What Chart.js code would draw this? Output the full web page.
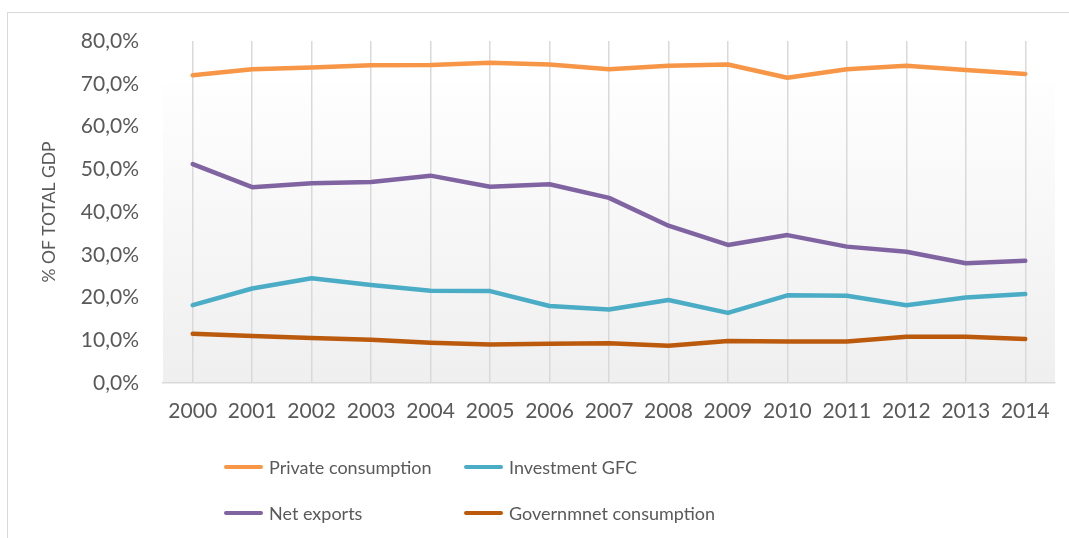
<!DOCTYPE html>
<html>
<head>
<meta charset="utf-8">
<script src="https://cdn.jsdelivr.net/npm/chart.js@4.4.1/dist/chart.umd.min.js"></script>
<style>
  html, body { margin: 0; padding: 0; background: #fff; }
  #wrap { position: relative; width: 1069px; height: 538px; overflow: hidden; }
  #frame { position: absolute; left: 7px; top: 12px; width: 1100px; height: 600px; border: 1px solid #d9d9d9; box-sizing: border-box; }
  #gdpChart { position: absolute; left: 0; top: 0; }
  .legend { position: absolute; font-family: Lato, sans-serif; font-size: 18px; color: #595959; }
  .legend-item { position: absolute; display: flex; align-items: center; white-space: nowrap; }
  .legend-swatch { width: 39px; height: 4px; border-radius: 2px; margin-right: 6px; }
</style>
</head>
<body>
<div id="wrap">
  <div id="frame"></div>
  <canvas id="gdpChart" width="1069" height="538"></canvas>
  <div class="legend" id="legend"></div>
</div>
<script>
const years = ['2000', '2001', '2002', '2003', '2004', '2005', '2006', '2007', '2008', '2009', '2010', '2011', '2012', '2013', '2014'];
const privateConsumption = [72.0, 73.4, 73.8, 74.3, 74.4, 74.9, 74.5, 73.4, 74.2, 74.5, 71.4, 73.4, 74.2, 73.2, 72.3];
const investmentGFC = [18.2, 22.1, 24.5, 22.9, 21.6, 21.5, 18.0, 17.2, 19.4, 16.4, 20.5, 20.4, 18.2, 20.0, 20.8];
const netExports = [51.2, 45.8, 46.7, 47.0, 48.5, 45.9, 46.5, 43.3, 36.8, 32.3, 34.6, 31.9, 30.7, 28.0, 28.6];
const governmentConsumption = [11.5, 11.0, 10.5, 10.1, 9.4, 9.0, 9.2, 9.3, 8.7, 9.8, 9.7, 9.7, 10.8, 10.8, 10.3];
const yTicks = [0, 10, 20, 30, 40, 50, 60, 70, 80];

const textColor = '#595959';
const fontFamily = 'Lato, sans-serif';

// order: legend reads row by row, left column then right column
const series = [
  { label: 'Private consumption', data: privateConsumption, color: '#f79646', col: 0, row: 0 },
  { label: 'Investment GFC', data: investmentGFC, color: '#4bacc6', col: 1, row: 0 },
  { label: 'Net exports', data: netExports, color: '#8064a2', col: 0, row: 1 },
  { label: 'Governmnet consumption', data: governmentConsumption, color: '#bb5a0c', col: 1, row: 1 }
];

// soft grey gradient behind the plot area
const plotBackground = {
  id: 'plotBackground',
  beforeDraw(chart) {
    const { ctx, chartArea } = chart;
    const top = chart.scales.y.getPixelForValue(70);
    const grad = ctx.createLinearGradient(0, top, 0, chartArea.bottom);
    grad.addColorStop(0, '#fefefe');
    grad.addColorStop(1, '#efefef');
    ctx.save();
    ctx.fillStyle = grad;
    ctx.fillRect(chartArea.left, top, chartArea.right - chartArea.left, chartArea.bottom - top);
    ctx.restore();
  }
};

const chart = new Chart(document.getElementById('gdpChart'), {
  type: 'line',
  data: {
    labels: years,
    datasets: series.map(s => ({
      label: s.label,
      data: s.data,
      borderColor: s.color,
      backgroundColor: s.color,
      borderWidth: 4.5,
      borderCapStyle: 'round',
      borderJoinStyle: 'round',
      pointRadius: 0,
      tension: 0,
      fill: false
    }))
  },
  options: {
    responsive: false,
    animation: false,
    layout: { padding: { top: 41, right: 14, left: 0, bottom: 0 } },
    plugins: {
      legend: { display: false },
      tooltip: { enabled: false }
    },
    scales: {
      x: {
        offset: true,
        grid: { color: '#d9d9d9', lineWidth: 1.5, drawTicks: false },
        border: { color: '#d9d9d9', width: 1.5 },
        ticks: { color: textColor, font: { family: fontFamily, size: 21 }, padding: 16, maxRotation: 0 },
        afterFit(scale) { scale.height = 155; }
      },
      y: {
        min: 0,
        max: 80,
        afterBuildTicks(scale) { scale.ticks = yTicks.map(v => ({ value: v })); },
        grid: { display: false, drawTicks: false },
        border: { display: false },
        ticks: {
          color: textColor,
          font: { family: fontFamily, size: 21 },
          padding: 24,
          callback: v => v.toFixed(1).replace('.', ',') + '%'
        },
        title: {
          display: true,
          text: '% OF TOTAL GDP',
          color: textColor,
          font: { family: fontFamily, size: 17.5 },
          padding: { top: 39, bottom: 0 }
        },
        afterFit(scale) { scale.width = 163; }
      }
    }
  },
  plugins: [plotBackground]
});

// two-column legend under the axis
const legendEl = document.getElementById('legend');
const colX = [224, 464];
const rowY = [467, 513];
series.forEach(s => {
  const item = document.createElement('div');
  item.className = 'legend-item';
  item.style.left = colX[s.col] + 'px';
  item.style.top = (rowY[s.row] - 12) + 'px';
  item.style.height = '24px';
  item.innerHTML = `<span class="legend-swatch" style="background:${s.color}"></span><span>${s.label}</span>`;
  legendEl.appendChild(item);
});
</script>
</body>
</html>
